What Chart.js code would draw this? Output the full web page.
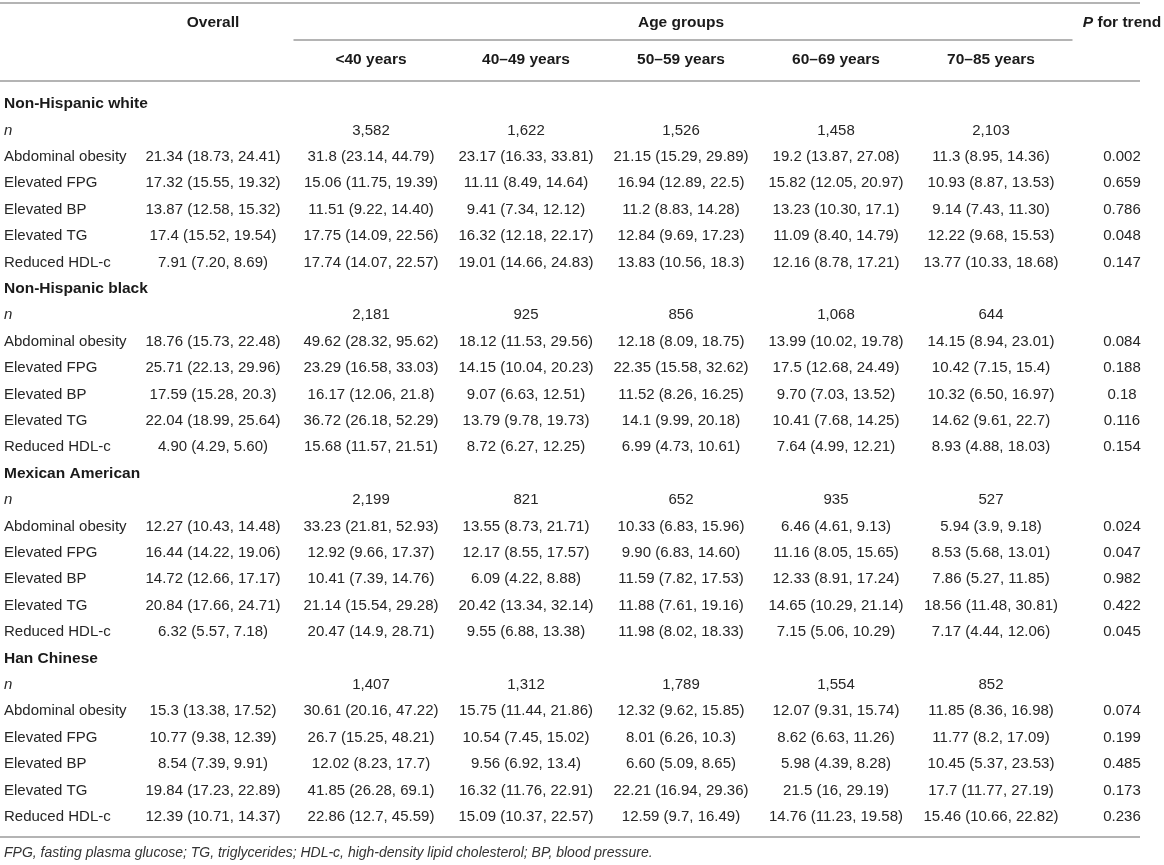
<!DOCTYPE html>
<html>
<head>
<meta charset="utf-8">
<script src="https://cdn.jsdelivr.net/npm/chart.js@4.4.1/dist/chart.umd.min.js"></script>
<style>
  html, body { margin: 0; padding: 0; background: #fff; }
  #wrap { width: 1164px; height: 865px; }
</style>
</head>
<body>
<div id="wrap"><canvas id="tableChart"></canvas></div>
<script>
// Column and row categories
const ageGroups = ["<40 years", "40–49 years", "50–59 years", "60–69 years", "70–85 years"];
const ethnicities = ["Non-Hispanic white", "Non-Hispanic black", "Mexican American", "Han Chinese"];
const components = ["Abdominal obesity", "Elevated FPG", "Elevated BP", "Elevated TG", "Reduced HDL-c"];

// Sample size per age group
const whiteN = ["3,582", "1,622", "1,526", "1,458", "2,103"];
const blackN = ["2,181", "925", "856", "1,068", "644"];
const mexicanN = ["2,199", "821", "652", "935", "527"];
const hanN = ["1,407", "1,312", "1,789", "1,554", "852"];

// Each row: overall, <40, 40-49, 50-59, 60-69, 70-85, P for trend
const whiteRows = [
  ["21.34 (18.73, 24.41)", "31.8 (23.14, 44.79)", "23.17 (16.33, 33.81)", "21.15 (15.29, 29.89)", "19.2 (13.87, 27.08)", "11.3 (8.95, 14.36)", "0.002"],
  ["17.32 (15.55, 19.32)", "15.06 (11.75, 19.39)", "11.11 (8.49, 14.64)", "16.94 (12.89, 22.5)", "15.82 (12.05, 20.97)", "10.93 (8.87, 13.53)", "0.659"],
  ["13.87 (12.58, 15.32)", "11.51 (9.22, 14.40)", "9.41 (7.34, 12.12)", "11.2 (8.83, 14.28)", "13.23 (10.30, 17.1)", "9.14 (7.43, 11.30)", "0.786"],
  ["17.4 (15.52, 19.54)", "17.75 (14.09, 22.56)", "16.32 (12.18, 22.17)", "12.84 (9.69, 17.23)", "11.09 (8.40, 14.79)", "12.22 (9.68, 15.53)", "0.048"],
  ["7.91 (7.20, 8.69)", "17.74 (14.07, 22.57)", "19.01 (14.66, 24.83)", "13.83 (10.56, 18.3)", "12.16 (8.78, 17.21)", "13.77 (10.33, 18.68)", "0.147"]
];
const blackRows = [
  ["18.76 (15.73, 22.48)", "49.62 (28.32, 95.62)", "18.12 (11.53, 29.56)", "12.18 (8.09, 18.75)", "13.99 (10.02, 19.78)", "14.15 (8.94, 23.01)", "0.084"],
  ["25.71 (22.13, 29.96)", "23.29 (16.58, 33.03)", "14.15 (10.04, 20.23)", "22.35 (15.58, 32.62)", "17.5 (12.68, 24.49)", "10.42 (7.15, 15.4)", "0.188"],
  ["17.59 (15.28, 20.3)", "16.17 (12.06, 21.8)", "9.07 (6.63, 12.51)", "11.52 (8.26, 16.25)", "9.70 (7.03, 13.52)", "10.32 (6.50, 16.97)", "0.18"],
  ["22.04 (18.99, 25.64)", "36.72 (26.18, 52.29)", "13.79 (9.78, 19.73)", "14.1 (9.99, 20.18)", "10.41 (7.68, 14.25)", "14.62 (9.61, 22.7)", "0.116"],
  ["4.90 (4.29, 5.60)", "15.68 (11.57, 21.51)", "8.72 (6.27, 12.25)", "6.99 (4.73, 10.61)", "7.64 (4.99, 12.21)", "8.93 (4.88, 18.03)", "0.154"]
];
const mexicanRows = [
  ["12.27 (10.43, 14.48)", "33.23 (21.81, 52.93)", "13.55 (8.73, 21.71)", "10.33 (6.83, 15.96)", "6.46 (4.61, 9.13)", "5.94 (3.9, 9.18)", "0.024"],
  ["16.44 (14.22, 19.06)", "12.92 (9.66, 17.37)", "12.17 (8.55, 17.57)", "9.90 (6.83, 14.60)", "11.16 (8.05, 15.65)", "8.53 (5.68, 13.01)", "0.047"],
  ["14.72 (12.66, 17.17)", "10.41 (7.39, 14.76)", "6.09 (4.22, 8.88)", "11.59 (7.82, 17.53)", "12.33 (8.91, 17.24)", "7.86 (5.27, 11.85)", "0.982"],
  ["20.84 (17.66, 24.71)", "21.14 (15.54, 29.28)", "20.42 (13.34, 32.14)", "11.88 (7.61, 19.16)", "14.65 (10.29, 21.14)", "18.56 (11.48, 30.81)", "0.422"],
  ["6.32 (5.57, 7.18)", "20.47 (14.9, 28.71)", "9.55 (6.88, 13.38)", "11.98 (8.02, 18.33)", "7.15 (5.06, 10.29)", "7.17 (4.44, 12.06)", "0.045"]
];
const hanRows = [
  ["15.3 (13.38, 17.52)", "30.61 (20.16, 47.22)", "15.75 (11.44, 21.86)", "12.32 (9.62, 15.85)", "12.07 (9.31, 15.74)", "11.85 (8.36, 16.98)", "0.074"],
  ["10.77 (9.38, 12.39)", "26.7 (15.25, 48.21)", "10.54 (7.45, 15.02)", "8.01 (6.26, 10.3)", "8.62 (6.63, 11.26)", "11.77 (8.2, 17.09)", "0.199"],
  ["8.54 (7.39, 9.91)", "12.02 (8.23, 17.7)", "9.56 (6.92, 13.4)", "6.60 (5.09, 8.65)", "5.98 (4.39, 8.28)", "10.45 (5.37, 23.53)", "0.485"],
  ["19.84 (17.23, 22.89)", "41.85 (26.28, 69.1)", "16.32 (11.76, 22.91)", "22.21 (16.94, 29.36)", "21.5 (16, 29.19)", "17.7 (11.77, 27.19)", "0.173"],
  ["12.39 (10.71, 14.37)", "22.86 (12.7, 45.59)", "15.09 (10.37, 22.57)", "12.59 (9.7, 16.49)", "14.76 (11.23, 19.58)", "15.46 (10.66, 22.82)", "0.236"]
];

const footnote = "FPG, fasting plasma glucose; TG, triglycerides; HDL-c, high-density lipid cholesterol; BP, blood pressure.";

// Layout of the page (pixels)
const W = 1164, H = 865;
const rowStep = 26.4, firstRowY = 104;
const overallX = 213, pTrendX = 1122;
const ageFirstX = 371, ageStep = 155;
const ruleRight = 1140;
const FONT = '"Liberation Sans", Arial, Helvetica, sans-serif';
const bodyFont = "15px " + FONT;
const boldFont = "bold 15.5px " + FONT;
const textColor = "#262626";
const ruleColor = "#b4b4b4";

// Build rows and one dataset per value column
const sampleN = [whiteN, blackN, mexicanN, hanN];
const blockRows = [whiteRows, blackRows, mexicanRows, hanRows];
const rowLabels = [];
const columns = [];
for (let c = 0; c < 7; c++) columns.push({ points: [], texts: [] });

ethnicities.forEach((eth, e) => {
  rowLabels.push({ text: eth, kind: "group" });
  const nRow = rowLabels.length;
  rowLabels.push({ text: "n", kind: "n" });
  sampleN[e].forEach((v, k) => {
    columns[k + 1].points.push({ x: k, y: nRow });
    columns[k + 1].texts.push(v);
  });
  components.forEach((comp, r) => {
    const rowIdx = rowLabels.length;
    rowLabels.push({ text: comp, kind: "item" });
    blockRows[e][r].forEach((v, c) => {
      const x = c === 0 ? 0 : c === 6 ? 1 : c - 1;
      columns[c].points.push({ x: x, y: rowIdx });
      columns[c].texts.push(v);
    });
  });
});

const datasets = columns.map((col, c) => ({
  label: c === 0 ? "Overall" : c === 6 ? "P for trend" : ageGroups[c - 1],
  data: col.points,
  texts: col.texts,
  xAxisID: c === 0 || c === 6 ? "xSide" : "xAge",
  yAxisID: "y",
  pointRadius: 0,
  pointHoverRadius: 0,
  showLine: false
}));

// Draw the table text and rules from the scales
const tablePlugin = {
  id: "tableText",
  afterDatasetsDraw(chart) {
    const ctx = chart.ctx;
    const y = chart.scales.y;
    const xAge = chart.scales.xAge;
    const xSide = chart.scales.xSide;
    const left = chart.chartArea.left;
    ctx.save();
    ctx.textBaseline = "middle";

    // rules
    ctx.strokeStyle = ruleColor;
    ctx.lineWidth = 2;
    const rule = (x1, x2, rowPos) => {
      const py = Math.round(y.getPixelForValue(rowPos));
      ctx.beginPath();
      ctx.moveTo(x1, py);
      ctx.lineTo(x2, py);
      ctx.stroke();
    };
    rule(left, ruleRight, -3.83);
    rule(xAge.getPixelForValue(-0.5), xAge.getPixelForValue(4.5) + 4, -2.43);
    rule(left, ruleRight, -0.87);
    rule(left, ruleRight, 27.77);

    // headers
    ctx.fillStyle = "#1a1a1a";
    ctx.font = boldFont;
    ctx.textAlign = "center";
    const h1 = y.getPixelForValue(-3.07);
    const h2 = y.getPixelForValue(-1.67);
    ctx.fillText("Overall", xSide.getPixelForValue(0), h1);
    ctx.fillText("Age groups", (xAge.getPixelForValue(0) + xAge.getPixelForValue(4)) / 2, h1);
    ageGroups.forEach((a, k) => ctx.fillText(a, xAge.getPixelForValue(k), h2));
    // "P for trend" with italic P
    const pX = xSide.getPixelForValue(1);
    ctx.font = boldFont;
    const restW = ctx.measureText(" for trend").width;
    ctx.font = "italic " + boldFont;
    const pW = ctx.measureText("P").width;
    const startX = pX - (pW + restW) / 2;
    ctx.textAlign = "left";
    ctx.fillText("P", startX, h1);
    ctx.font = boldFont;
    ctx.fillText(" for trend", startX + pW, h1);

    // row labels
    rowLabels.forEach((r, i) => {
      const py = y.getPixelForValue(i);
      if (r.kind === "group") {
        ctx.font = boldFont;
        ctx.fillStyle = "#1a1a1a";
      } else if (r.kind === "n") {
        ctx.font = "italic " + bodyFont;
        ctx.fillStyle = textColor;
      } else {
        ctx.font = bodyFont;
        ctx.fillStyle = textColor;
      }
      ctx.fillText(r.text, left + 4, py);
    });

    // cell values
    ctx.font = bodyFont;
    ctx.fillStyle = textColor;
    ctx.textAlign = "center";
    chart.data.datasets.forEach((ds, i) => {
      const meta = chart.getDatasetMeta(i);
      meta.data.forEach((pt, j) => {
        ctx.fillText(ds.texts[j], pt.x, pt.y);
      });
    });

    // footnote
    ctx.font = "italic 14px " + FONT;
    ctx.fillStyle = "#333";
    ctx.textAlign = "left";
    ctx.fillText(footnote, left + 4, y.getPixelForValue(28.37));
    ctx.restore();
  }
};

new Chart(document.getElementById("tableChart"), {
  type: "scatter",
  data: { datasets: datasets },
  options: {
    responsive: true,
    maintainAspectRatio: false,
    animation: false,
    events: [],
    layout: { padding: 0 },
    plugins: {
      legend: { display: false },
      tooltip: { enabled: false }
    },
    scales: {
      xAge: {
        type: "linear",
        axis: "x",
        display: false,
        min: -ageFirstX / ageStep,
        max: (W - ageFirstX) / ageStep
      },
      xSide: {
        type: "linear",
        axis: "x",
        display: false,
        min: -overallX / (pTrendX - overallX),
        max: (W - overallX) / (pTrendX - overallX)
      },
      y: {
        type: "linear",
        display: false,
        reverse: true,
        min: -firstRowY / rowStep,
        max: (H - firstRowY) / rowStep
      }
    }
  },
  plugins: [tablePlugin]
});
</script>
</body>
</html>
